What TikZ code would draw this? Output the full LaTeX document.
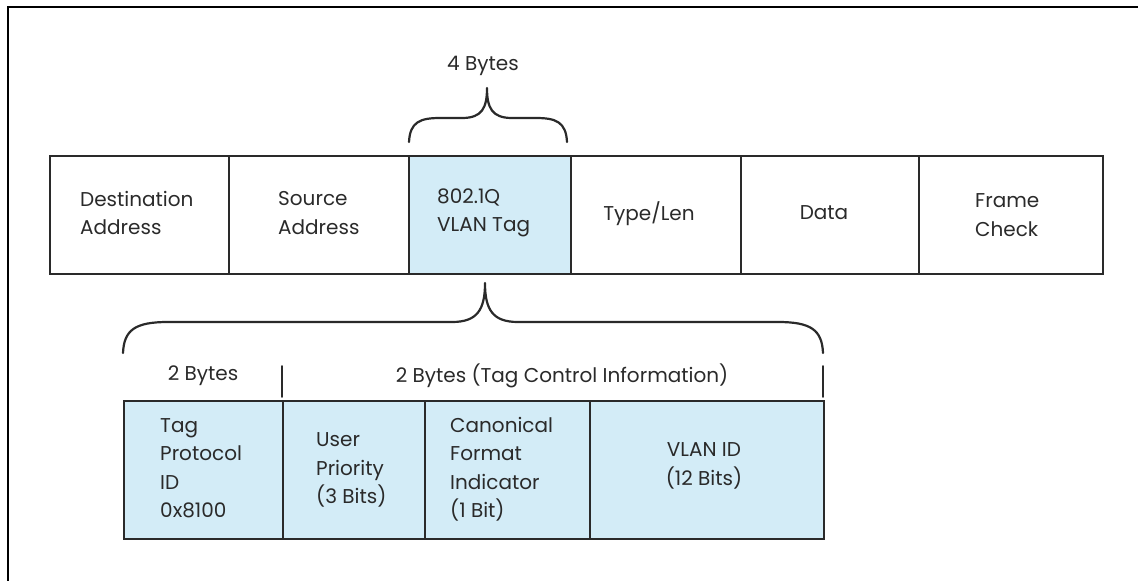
\documentclass[tikz,border=0pt]{standalone}
\usepackage{fontspec}
\setmainfont{Poppins}
\definecolor{tagblue}{HTML}{D3ECF7}
\definecolor{ink}{HTML}{2A2A2A}
\begin{document}
\begin{tikzpicture}[x=1pt,y=-1pt,
  cell/.style={draw=ink, line width=1.8pt, anchor=north west, inner sep=0pt},
  tag/.style={cell, fill=tagblue},
  lbl/.style={font=\fontsize{20}{28.5}\selectfont, text=ink, inner sep=0pt, align=left, anchor=west},
  clbl/.style={lbl, align=center, anchor=center},
  brace/.style={draw=ink, line width=2.2pt, line cap=round, line join=round}]
\useasboundingbox (0,0) rectangle (1138,581);
\draw[line width=1.2pt] (8,581) -- (8,7) -- (1138,7);
% top frame
\node[cell, minimum width=179pt, minimum height=118pt] (da) at (49,155) {};
\node[cell, minimum width=180pt, minimum height=118pt] (sa) at (228,155) {};
\node[tag,  minimum width=162pt, minimum height=118pt] (vt) at (408,155) {};
\node[cell, minimum width=170pt, minimum height=118pt] (tl) at (570,155) {};
\node[cell, minimum width=178pt, minimum height=118pt] (dt) at (740,155) {};
\node[cell, minimum width=184pt, minimum height=118pt] (fc) at (918,155) {};
\node[lbl] (tda) at (80,213) {Destination\\Address};
\node[lbl] (tsa) at (278,213) {Source\\Address};
\node[lbl] (tvt) at (437,213) {802.1Q\\VLAN Tag};
\node[clbl] (ttl) at (649,214) {Type/Len};
\node[clbl] (tdt) at (824,213) {Data};
\node[lbl] (tfc) at (975,215) {Frame\\Check};
% 4 bytes brace
\coordinate (b1l) at (409,142);
\coordinate (b1t) at (487,88);
\coordinate (b1r) at (567,142);
\draw[brace] (b1l) .. controls (410,122) and (420,118) .. (440,118) -- (462,118)
  .. controls (482,118) and (487,108) .. (b1t)
  .. controls (487,108) and (492,118) .. (512,118) -- (536,118)
  .. controls (556,118) and (566,122) .. (b1r);
\node[clbl] (four) at (483,66) {4 Bytes};
% big brace
\coordinate (b2l) at (123,353);
\coordinate (b2t) at (485,283);
\coordinate (b2r) at (823,353);
\draw[brace] (b2l) .. controls (124,330) and (135,322) .. (168,322) -- (452,322)
  .. controls (477,322) and (485,310) .. (b2t)
  .. controls (485,310) and (493,322) .. (518,322) -- (778,322)
  .. controls (811,322) and (822,330) .. (b2r);
% labels and ticks
\node[clbl] (two) at (203,376) {2 Bytes};
\node[clbl] (tci) at (562,376) {2 Bytes (Tag Control Information)};
\coordinate (k1a) at (282,366);
\coordinate (k1b) at (282,397);
\coordinate (k2a) at (823,366);
\coordinate (k2b) at (823,397);
\draw[brace, line width=1.8pt] (k1a) -- (k1b);
\draw[brace, line width=1.8pt] (k2a) -- (k2b);
% bottom boxes
\node[tag, minimum width=159pt, minimum height=138pt] (tp) at (123,400) {};
\node[tag, minimum width=142pt, minimum height=138pt] (up) at (282,400) {};
\node[tag, minimum width=165pt, minimum height=138pt] (cf) at (424,400) {};
\node[tag, minimum width=234pt, minimum height=138pt] (vid) at (589,400) {};
\node[lbl] (ttp) at (160,468) {Tag\\Protocol\\ID\\0x8100};
\node[lbl] (tup) at (316,470) {User\\Priority\\(3 Bits)};
\node[lbl] (tcf) at (450,469) {Canonical\\Format\\Indicator\\(1 Bit)};
\node[clbl] (tvid) at (704,466) {VLAN ID\\(12 Bits)};
\end{tikzpicture}
\end{document}
